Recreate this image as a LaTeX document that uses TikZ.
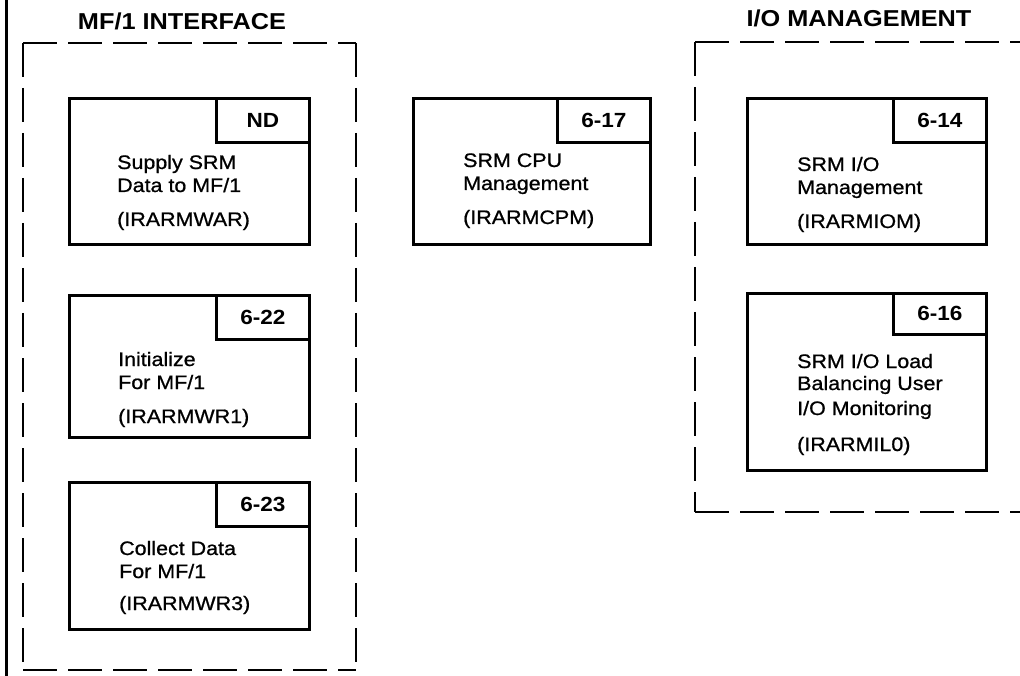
\documentclass[tikz,border=0pt]{standalone}
\usepackage{fontspec}
\setmainfont[FakeStretch=1.1]{Liberation Sans}
\newfontfamily\bodyfont[FakeStretch=1.1,FakeBold=0.8]{Liberation Sans}
\begin{document}
\begin{tikzpicture}[x=1pt,y=-1pt,
  modbox/.style={draw, line width=2.8pt, fill=white, anchor=north west, inner sep=0pt},
  tabbox/.style={draw, line width=2.8pt, anchor=north east, minimum width=93pt, minimum height=44pt, inner sep=0pt, font=\fontsize{20.5}{20.5}\selectfont\bfseries},
  grouptitle/.style={font=\fontsize{23}{23}\selectfont\bfseries, inner sep=0pt},
  modtext/.style={anchor=base west, inner sep=0pt, font=\bodyfont\fontsize{19.5}{24}\selectfont},
  groupframe/.style={line width=2pt, dash pattern=on 34pt off 11pt}]
\useasboundingbox[fill=white] (0,0) rectangle (1020,676);

% left solid rule
\draw[line width=3pt] (6,0) -- (6,676);

% group titles
\node[grouptitle] (t1) at (182,21) {MF/1 INTERFACE};
\node[grouptitle] (t2) at (859,18) {I/O MANAGEMENT};

% group frames
\draw[groupframe] (23,43) -- (356,43);
\draw[groupframe] (356,43) -- (356,670);
\draw[groupframe] (23,43) -- (23,670);
\draw[groupframe] (23,670) -- (356,670);
\draw[groupframe] (695,42) -- (1020,42);
\draw[groupframe] (695,42) -- (695,512);
\draw[groupframe] (695,512) -- (1020,512);

% MF/1 interface modules
\node[modbox, minimum width=240pt, minimum height=146pt] (b1) at (68,97) {};
\node[tabbox] (b1t) at (b1.north east) {ND};
\node[modtext] (b1a) at (117,169) {Supply SRM};
\node[modtext] (b1b) at (117,192) {Data to MF/1};
\node[modtext] (b1c) at (117,226) {(IRARMWAR)};

\node[modbox, minimum width=240pt, minimum height=142pt] (b2) at (68,294) {};
\node[tabbox] (b2t) at (b2.north east) {6-22};
\node[modtext] (b2a) at (118,366) {Initialize};
\node[modtext] (b2b) at (118,389) {For MF/1};
\node[modtext] (b2c) at (118,423) {(IRARMWR1)};

\node[modbox, minimum width=240pt, minimum height=147pt] (b3) at (68,481) {};
\node[tabbox] (b3t) at (b3.north east) {6-23};
\node[modtext] (b3a) at (119,555) {Collect Data};
\node[modtext] (b3b) at (119,578) {For MF/1};
\node[modtext] (b3c) at (119,610) {(IRARMWR3)};

% CPU management
\node[modbox, minimum width=237pt, minimum height=146pt] (c1) at (412,97) {};
\node[tabbox] (c1t) at (c1.north east) {6-17};
\node[modtext] (c1a) at (463,167) {SRM CPU};
\node[modtext] (c1b) at (463,190) {Management};
\node[modtext] (c1c) at (463,224) {(IRARMCPM)};

% I/O management modules
\node[modbox, minimum width=239pt, minimum height=146pt] (r1) at (746,97) {};
\node[tabbox] (r1t) at (r1.north east) {6-14};
\node[modtext] (r1a) at (797,171) {SRM I/O};
\node[modtext] (r1b) at (797,194) {Management};
\node[modtext] (r1c) at (797,228) {(IRARMIOM)};

\node[modbox, minimum width=239pt, minimum height=177pt] (r2) at (746,292) {};
\node[tabbox, minimum height=41pt] (r2t) at (r2.north east) {6-16};
\node[modtext] (r2a) at (797,368) {SRM I/O Load};
\node[modtext] (r2b) at (797,390) {Balancing User};
\node[modtext] (r2c) at (797,415) {I/O Monitoring};
\node[modtext] (r2d) at (797,451) {(IRARMIL0)};
\end{tikzpicture}
\end{document}
